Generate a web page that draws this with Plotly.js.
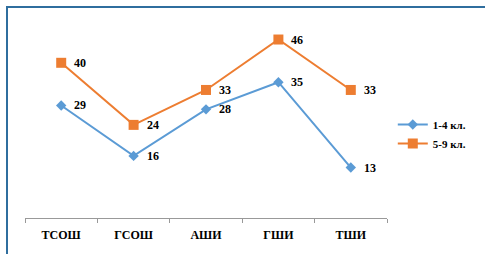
<!DOCTYPE html>
<html>
<head>
<meta charset="utf-8">
<script src="https://cdn.plot.ly/plotly-3.0.1.min.js"></script>
<style>
  html, body { margin: 0; padding: 0; background: #fff; }
  #wrap { position: relative; width: 485px; height: 254px; overflow: hidden; }
  #chart { position: absolute; left: 0; top: 0; width: 485px; height: 254px; }
  #frame { position: absolute; left: 6px; top: 6px; width: 500px; height: 300px;
           border-left: 2px solid #2F6E9E; border-top: 2px solid #2F6E9E; pointer-events: none; }
</style>
</head>
<body>
<div id="wrap">
  <div id="chart"></div>
  <div id="frame"></div>
</div>
<script>
const categories = ["ТСОШ", "ГСОШ", "АШИ", "ГШИ", "ТШИ"];
const seriesNames = ["1-4 кл.", "5-9 кл."];
const grades14 = [29, 16, 28, 35, 13];
const grades59 = [40, 24, 33, 46, 33];

const blue = "#5B9BD5";
const orange = "#ED7D31";
const labelFont = { family: "Liberation Serif, Times New Roman, serif", size: 12, color: "#000", weight: "bold" };

const traces = [
  {
    x: categories, y: grades14, name: seriesNames[0], type: "scatter", mode: "lines+markers",
    line: { color: blue, width: 2 },
    marker: { symbol: "diamond", size: 8, color: blue }
  },
  {
    x: categories, y: grades59, name: seriesNames[1], type: "scatter", mode: "lines+markers",
    line: { color: orange, width: 2 },
    marker: { symbol: "square", size: 10, color: orange }
  }
];

const annotations = [];
[grades14, grades59].forEach(vals => {
  vals.forEach((v, i) => {
    annotations.push({
      x: categories[i], y: v, xref: "x", yref: "y", text: String(v),
      showarrow: false, xanchor: "left", yanchor: "middle", xshift: 11,
      font: labelFont
    });
  });
});

const layout = {
  width: 485, height: 254,
  margin: { l: 25, r: 98, t: 24, b: 36 },
  paper_bgcolor: "rgba(0,0,0,0)", plot_bgcolor: "rgba(0,0,0,0)",
  showlegend: true,
  legend: {
    x: 1.016, y: 0.433, xanchor: "left", yanchor: "middle",
    font: { family: "Liberation Serif, Times New Roman, serif", size: 11, color: "#000", weight: "bold" },
    bgcolor: "rgba(0,0,0,0)", itemwidth: 30, tracegroupgap: 0
  },
  xaxis: {
    type: "category", range: [-0.5, 4.5], tickson: "boundaries",
    showline: true, linecolor: "#999", linewidth: 1,
    ticks: "outside", ticklen: 4, tickcolor: "#999",
    showgrid: false, zeroline: false, ticklabelstandoff: 6,
    tickfont: { family: "Liberation Serif, Times New Roman, serif", size: 12, color: "#000", weight: "bold" }
  },
  yaxis: {
    range: [0, 50], visible: false, showgrid: false, zeroline: false
  },
  annotations: annotations
};

Plotly.newPlot("chart", traces, layout, { displayModeBar: false, staticPlot: true });
</script>
</body>
</html>
